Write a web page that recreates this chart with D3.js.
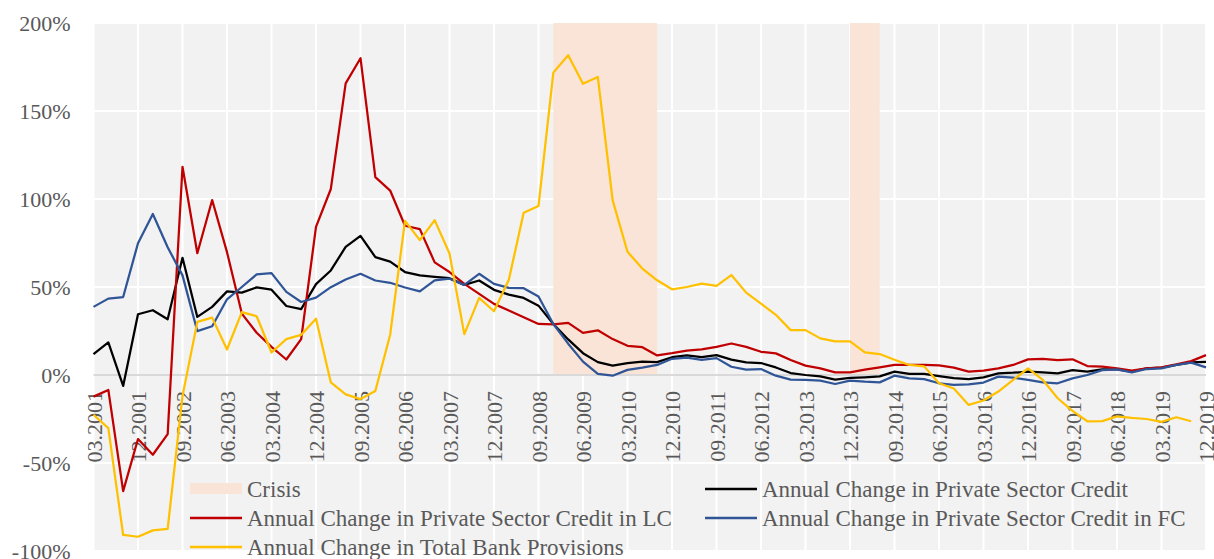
<!DOCTYPE html>
<html>
<head>
<meta charset="utf-8">
<script src="https://cdn.jsdelivr.net/npm/d3@7"></script>
<style>
    body { margin: 0; background: #ffffff; }
    svg text { font-family: "Liberation Serif", "Times New Roman", Times, "DejaVu Serif", serif; fill: #595959; }
</style>
</head>
<body>
<div id="chart"></div>
<script>
// quarters, 03.2001 .. 12.2019
const quarters = [
    "03.2001", "06.2001", "09.2001", "12.2001", "03.2002", "06.2002", "09.2002", "12.2002",
    "03.2003", "06.2003", "09.2003", "12.2003", "03.2004", "06.2004", "09.2004", "12.2004",
    "03.2005", "06.2005", "09.2005", "12.2005", "03.2006", "06.2006", "09.2006", "12.2006",
    "03.2007", "06.2007", "09.2007", "12.2007", "03.2008", "06.2008", "09.2008", "12.2008",
    "03.2009", "06.2009", "09.2009", "12.2009", "03.2010", "06.2010", "09.2010", "12.2010",
    "03.2011", "06.2011", "09.2011", "12.2011", "03.2012", "06.2012", "09.2012", "12.2012",
    "03.2013", "06.2013", "09.2013", "12.2013", "03.2014", "06.2014", "09.2014", "12.2014",
    "03.2015", "06.2015", "09.2015", "12.2015", "03.2016", "06.2016", "09.2016", "12.2016",
    "03.2017", "06.2017", "09.2017", "12.2017", "03.2018", "06.2018", "09.2018", "12.2018",
    "03.2019", "06.2019", "09.2019", "12.2019"
];

// shown on the x axis (every third quarter)
const xTickLabels = [
    "03.2001", "12.2001", "09.2002", "06.2003", "03.2004", "12.2004", "09.2005", "06.2006",
    "03.2007", "12.2007", "09.2008", "06.2009", "03.2010", "12.2010", "09.2011", "06.2012",
    "03.2013", "12.2013", "09.2014", "06.2015", "03.2016", "12.2016", "09.2017", "06.2018",
    "03.2019", "12.2019"
];
const yTicks = [-100, -50, 0, 50, 100, 150, 200];

// crisis periods (start quarter, end quarter)
const crisisStart = ["12.2008", "12.2013"];
const crisisEnd = ["09.2010", "06.2014"];

// annual change, %
const creditTotal = [
    11.9, 18.5, -6.2, 34.5, 36.8, 31.7, 66.6, 33, 38.7, 47.5, 46.8, 49.8, 48.5, 39.2, 37.4, 51.6,
    59.4, 72.8, 79, 67, 64.4, 58.5, 56.6, 55.8, 55, 51.2, 53.7, 48.4, 45.7, 43.8, 39.4, 29,
    20.2, 12.4, 7.3, 5.3, 6.7, 7.6, 7.3, 10.1, 11.1, 10.1, 11.3, 8.7, 7.2, 6.8, 4.3, 1.1,
    0, -0.8, -2.6, -1.7, -1.3, -0.8, 1.9, 0.6, 0.6, -0.6, -1.8, -2.3, -1.3, 0.9, 1.3, 1.9,
    1.5, 0.9, 2.8, 1.9, 3.2, 3.2, 1.9, 3.8, 4.2, 5.7, 7.2, 7.5
];
const creditLC = [
    -12.3, -8.5, -66, -36.4, -45.3, -33.6, 118.3, 69.2, 99.4, 69.8, 34.9, 24, 16, 8.8, 20.4, 84.2,
    105.7, 165.7, 180, 112.4, 104.8, 84.8, 82.9, 64, 58.5, 51.8, 46.1, 40.4, 36.6, 32.8, 29, 28.8,
    29.6, 23.9, 25.4, 20.4, 16.6, 15.8, 11.1, 12.4, 13.9, 14.5, 16, 17.9, 16, 13.2, 12.3, 8.5,
    5.3, 3.8, 1.5, 1.5, 3, 4.3, 5.7, 5.7, 5.7, 5.5, 4.2, 1.9, 2.5, 3.8, 5.7, 8.9,
    9.1, 8.5, 8.9, 5.1, 4.7, 3.8, 2.5, 3.8, 4.3, 6, 7.9, 11.3
];
const creditFC = [
    38.7, 43.4, 44.3, 74.9, 91.5, 72.6, 56.6, 24.9, 27.7, 43, 50, 57.2, 57.9, 47.2, 41.5, 44,
    49.9, 54.3, 57.5, 53.7, 52.4, 49.7, 47.5, 53.8, 54.7, 51.2, 57.5, 51.8, 49.5, 49.3, 44.6, 29,
    17.8, 7.6, 0.6, -0.4, 2.9, 4.2, 5.7, 9.2, 9.9, 8.6, 9.6, 4.7, 3, 3.4, -0.4, -2.6,
    -2.8, -3.2, -5.1, -3.2, -3.8, -4.2, -0.4, -1.9, -2.3, -4.7, -5.6, -5.3, -4.3, -0.9, -1.5, -2.8,
    -4.2, -4.7, -1.9, 0, 2.8, 3.2, 1.5, 3.4, 3.8, 5.7, 7, 4.3
];
const provisions = [
    -22.6, -30.2, -90.9, -91.9, -88.3, -87.4, -12, 30.2, 32.6, 14.5, 35.7, 33.4, 12.8, 20.4, 22.8, 32,
    -4.2, -11, -13.7, -9.1, 22.9, 87.6, 76.6, 88, 69, 23.2, 43.8, 36.2, 54.1, 92.2, 96, 171.8,
    181.7, 165.5, 169.3, 99.2, 70, 60.5, 53.8, 48.7, 50, 51.9, 50.6, 56.8, 46.8, 40.6, 34.2, 25.5,
    25.5, 20.8, 19.1, 19.1, 12.8, 11.9, 8.7, 5.7, 4.9, -4.7, -7.7, -17, -14.5, -9.4, -2.8, 3.8,
    -2.8, -13.2, -20.4, -26.3, -26.2, -23.5, -24.4, -25, -26.6, -24, -26.3, null
];

const seriesNames = [
    "Annual Change in Private Sector Credit",
    "Annual Change in Private Sector Credit in LC",
    "Annual Change in Private Sector Credit in FC",
    "Annual Change in Total Bank Provisions"
];
const seriesColors = ["#000000", "#C00000", "#2F5597", "#FFC000"];
const seriesValues = [creditTotal, creditLC, creditFC, provisions];

const FONT = "'Liberation Serif', 'Times New Roman', Times, 'DejaVu Serif', serif";
const W = 1214, H = 559;
const plot = { left: 93.5, right: 1206, top: 23, bottom: 551 };

const svg = d3.select("#chart").append("svg")
    .attr("width", W)
    .attr("height", H);

const x = d3.scalePoint()
    .domain(quarters)
    .range([plot.left, plot.right]);

const y = d3.scaleLinear()
    .domain([-100, 200])
    .range([plot.bottom, plot.top]);

// plot background
svg.append("rect")
    .attr("x", plot.left)
    .attr("y", plot.top)
    .attr("width", plot.right - plot.left)
    .attr("height", plot.bottom - plot.top)
    .attr("fill", "#F2F2F2");

// gridlines
svg.append("g")
    .selectAll("line")
    .data(xTickLabels)
    .join("line")
    .attr("x1", d => x(d)).attr("x2", d => x(d))
    .attr("y1", plot.top).attr("y2", plot.bottom)
    .attr("stroke", "#ffffff")
    .attr("stroke-width", 2);

svg.append("g")
    .selectAll("line")
    .data(yTicks.filter(d => d !== 0))
    .join("line")
    .attr("x1", plot.left).attr("x2", plot.right)
    .attr("y1", d => y(d)).attr("y2", d => y(d))
    .attr("stroke", "#ffffff")
    .attr("stroke-width", 2);

// crisis shading
svg.append("g")
    .selectAll("rect")
    .data(crisisStart.map((s, i) => ({ start: s, end: crisisEnd[i] })))
    .join("rect")
    .attr("x", d => x(d.start))
    .attr("width", d => x(d.end) - x(d.start))
    .attr("y", y(200))
    .attr("height", y(0) - y(200))
    .attr("fill", "#F9E4D7");

// zero line
svg.append("line")
    .attr("x1", plot.left).attr("x2", plot.right)
    .attr("y1", y(0)).attr("y2", y(0))
    .attr("stroke", "#D9D9D9")
    .attr("stroke-width", 2);

// y axis
const yAxis = svg.append("g")
    .attr("transform", "translate(" + plot.left + ",0)")
    .call(d3.axisLeft(y).tickValues(yTicks).tickSize(0).tickPadding(23).tickFormat(d => d + "%"));
yAxis.select(".domain").remove();
yAxis.attr("font-family", null).attr("font-size", null);
yAxis.selectAll("text")
    .style("font-family", FONT)
    .style("font-size", "22px")
    .attr("fill", "#595959");

// x axis, labels rotated, sitting under the zero line
const xAxis = svg.append("g")
    .attr("transform", "translate(0," + y(0) + ")")
    .call(d3.axisBottom(x).tickValues(xTickLabels).tickSize(0));
xAxis.select(".domain").remove();
xAxis.attr("font-family", null).attr("font-size", null);
xAxis.selectAll("text")
    .attr("transform", "rotate(-90)")
    .attr("text-anchor", "end")
    .attr("x", -16)
    .attr("y", 0)
    .attr("dy", "0.35em")
    .style("font-family", FONT)
    .style("font-size", "22px")
    .attr("fill", "#595959");

// series lines
const line = d3.line()
    .defined(d => d.v !== null)
    .x(d => x(d.q))
    .y(d => y(d.v));

seriesValues.forEach(function (vals, i) {
    svg.append("path")
        .datum(vals.map((v, j) => ({ q: quarters[j], v: v })))
        .attr("fill", "none")
        .attr("stroke", seriesColors[i])
        .attr("stroke-width", 2.25)
        .attr("stroke-linejoin", "round")
        .attr("d", line);
});

// legend
const legendItems = [
    { name: "Crisis", type: "rect", color: "#F9E4D7", col: 0, row: 0 },
    { name: seriesNames[0], type: "line", color: seriesColors[0], col: 1, row: 0 },
    { name: seriesNames[1], type: "line", color: seriesColors[1], col: 0, row: 1 },
    { name: seriesNames[2], type: "line", color: seriesColors[2], col: 1, row: 1 },
    { name: seriesNames[3], type: "line", color: seriesColors[3], col: 0, row: 2 }
];
const legendColX = [190, 705];
const legendRowY = [489, 518, 547];

const legend = svg.append("g");
const li = legend.selectAll("g")
    .data(legendItems)
    .join("g")
    .attr("transform", d => "translate(" + legendColX[d.col] + "," + legendRowY[d.row] + ")");

li.filter(d => d.type === "rect").append("rect")
    .attr("x", 0).attr("y", -6)
    .attr("width", 52).attr("height", 11)
    .attr("fill", d => d.color);

li.filter(d => d.type === "line").append("line")
    .attr("x1", 0).attr("x2", 52)
    .attr("y1", 0).attr("y2", 0)
    .attr("stroke", d => d.color)
    .attr("stroke-width", 2.5);

li.append("text")
    .attr("x", 57)
    .attr("y", 0)
    .attr("dy", "0.35em")
    .style("font-family", FONT)
    .style("font-size", "23px")
    .text(d => d.name);
</script>
</body>
</html>
